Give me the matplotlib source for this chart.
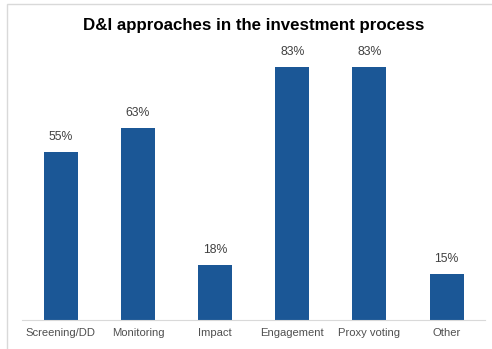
import matplotlib.pyplot as plt
from matplotlib.patches import Rectangle

categories = ['Screening/DD', 'Monitoring', 'Impact', 'Engagement', 'Proxy voting', 'Other']
values = [55, 63, 18, 83, 83, 15]

plt.rcParams['font.family'] = ['Liberation Sans', 'DejaVu Sans']

fig = plt.figure(figsize=(4.92, 3.49), dpi=100)
ax = fig.add_axes([0.045, 0.083, 0.941, 0.787])

x = range(len(categories))
bars = ax.bar(x, values, width=0.44, color='#1B5796')

for b, v in zip(bars, values):
    ax.text(b.get_x() + b.get_width() / 2, v + 3, f'{v}%', ha='center', va='bottom',
            fontsize=8.8, color='#404040')

ax.set_xlim(-0.5, len(categories) - 0.5)
ax.set_ylim(0, 90)
ax.set_xticks(list(x))
ax.set_xticklabels(categories, fontsize=8.1, color='#505050')
ax.tick_params(axis='x', length=0, pad=6)
ax.set_yticks([])
for side in ['left', 'right', 'top']:
    ax.spines[side].set_visible(False)
ax.spines['bottom'].set_color('#D9D9D9')
ax.spines['bottom'].set_linewidth(0.8)

fig.text(0.515, 0.928, 'D&I approaches in the investment process', ha='center', va='center',
         fontsize=12.2, fontweight='bold', color='black')

# outer frame, cut off on the right and bottom
fig.patches.append(Rectangle((7 / 492, -0.5), 3.0, 1.5 - 4 / 349, transform=fig.transFigure,
                             fill=False, edgecolor='#D9D9D9', linewidth=1.0))

fig.savefig('out.png', dpi=100)
